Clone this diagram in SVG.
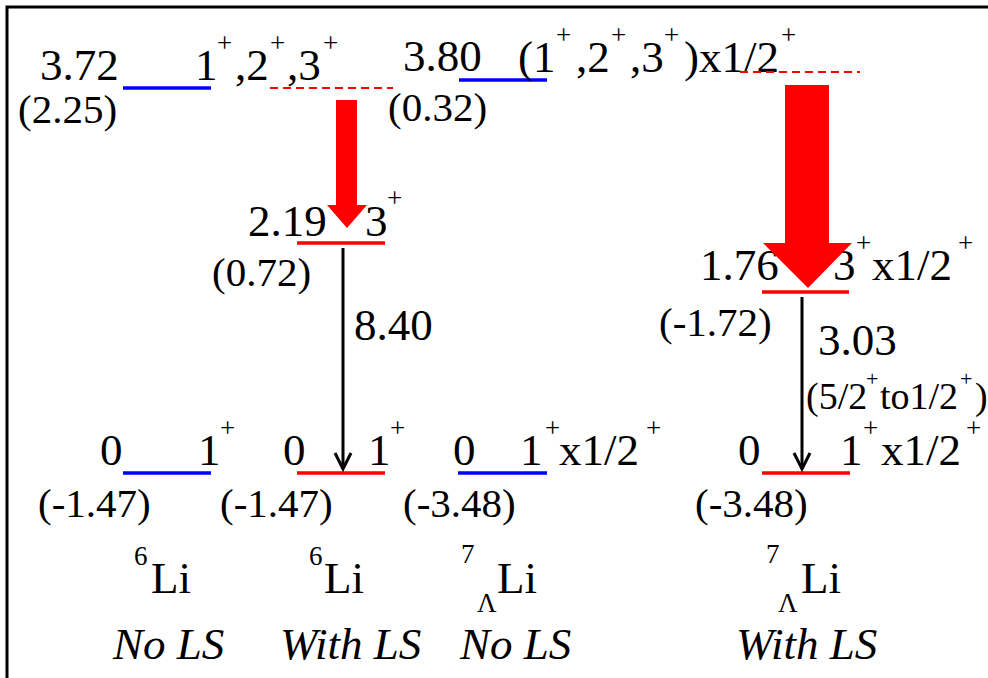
<svg xmlns="http://www.w3.org/2000/svg" width="988" height="678" viewBox="0 0 988 678" font-family="'Liberation Serif', 'Times New Roman', serif">
<style>
text{font-family:"Liberation Serif","Times New Roman",serif;fill:#000}
.m{font-size:45px}
.p{font-size:41px}
.s{font-size:27px}
.q{font-size:38px}
.t{font-size:22px}
.it{font-size:45px;font-style:italic}
.blue{stroke:#0000ff;stroke-width:3.5}
.red{stroke:#ff0000;stroke-width:3.5}
.dash{stroke:#ff0000;stroke-width:2;stroke-dasharray:8 5}
.big{fill:#ff0000}
.tr{stroke:#000;stroke-width:3;fill:none}
</style>
<rect width="988" height="678" fill="#fff"/>
<path d="M7,678 V7 H988" fill="none" stroke="#000" stroke-width="3"/>

<g id="li6-nols-372">
<text class="m" x="40" y="80">3.72</text>
<line class="blue" x1="123" y1="88" x2="211" y2="88"/>
<text class="m" x="195" y="80">1</text><text class="s" x="217" y="52">+</text>
<text class="m" x="235" y="80">,2</text><text class="s" x="270" y="52">+</text>
<text class="m" x="287" y="80">,3</text><text class="s" x="323" y="52">+</text>
<text class="p" x="18" y="123">(2.25)</text>
</g>
<g id="li6-ls-372">
<line class="dash" x1="270" y1="88" x2="393" y2="88"/>
</g>
<g id="li7-nols-380">
<text class="m" x="403" y="71">3.80</text>
<line class="blue" x1="459" y1="80" x2="547" y2="80"/>
<text class="m" x="518" y="72">(1</text><text class="s" x="556" y="44">+</text>
<text class="m" x="576" y="72">,2</text><text class="s" x="611" y="44">+</text>
<text class="m" x="630" y="72">,3</text><text class="s" x="664" y="44">+</text>
<text class="m" x="684" y="72">)x1/2</text><text class="s" x="781" y="44">+</text>
<text class="p" x="388" y="121">(0.32)</text>
</g>
<g id="li7-ls-380">
<line class="dash" x1="740" y1="72" x2="860" y2="72"/>
</g>

<g id="li6-ls-219">
<line class="red" x1="297" y1="243" x2="385" y2="243"/>
<text class="m" x="248" y="236">2.19</text>
<text class="m" x="365" y="236">3</text><text class="s" x="387" y="207">+</text>
<text class="p" x="212" y="286">(0.72)</text>
</g>
<g id="li7-ls-176">
<line class="red" x1="762" y1="292" x2="849" y2="292"/>
<text class="m" x="700" y="280">1.76</text>
<text class="m" x="833" y="280">3</text><text class="s" x="856" y="252">+</text>
<text class="m" x="872" y="280">x1/2</text><text class="s" x="958" y="252">+</text>
<text class="p" x="659" y="336">(-1.72)</text>
</g>

<g id="li6-nols-0">
<line class="blue" x1="123" y1="473" x2="211" y2="473"/>
<text class="m" x="100" y="465">0</text>
<text class="m" x="198" y="465">1</text><text class="s" x="220" y="437">+</text>
<text class="p" x="38" y="517">(-1.47)</text>
</g>
<g id="li6-ls-0">
<line class="red" x1="297" y1="473" x2="385" y2="473"/>
<text class="m" x="283" y="465">0</text>
<text class="m" x="368" y="465">1</text><text class="s" x="390" y="437">+</text>
<text class="p" x="220" y="517">(-1.47)</text>
</g>
<g id="li7-nols-0">
<line class="blue" x1="458" y1="473" x2="547" y2="473"/>
<text class="m" x="453" y="465">0</text>
<text class="m" x="520" y="465">1</text><text class="s" x="545" y="437">+</text>
<text class="m" x="559" y="465">x1/2</text><text class="s" x="646" y="437">+</text>
<text class="p" x="403" y="517">(-3.48)</text>
</g>
<g id="li7-ls-0">
<line class="red" x1="762" y1="473" x2="850" y2="473"/>
<text class="m" x="738" y="465">0</text>
<text class="m" x="840" y="465">1</text><text class="s" x="863" y="437">+</text>
<text class="m" x="881" y="465">x1/2</text><text class="s" x="966" y="437">+</text>
<text class="p" x="695" y="517">(-3.48)</text>
</g>

<g id="connectors">
<polygon class="big" points="336,100 357,100 357,205 367,205 347,228 327,205 336,205"/>
<polygon class="big" points="785,85 829,85 829,243 852,243 808,288 763,243 785,243"/>
<line class="tr" x1="343" y1="248" x2="343" y2="469"/>
<polyline class="tr" points="335,453 343,469 351,453"/>
<line class="tr" x1="802" y1="297" x2="802" y2="469"/>
<polyline class="tr" points="794,453 802,469 810,453"/>
<text class="m" x="354" y="340">8.40</text>
<text class="m" x="818" y="355">3.03</text>
<text class="q" x="806" y="409">(5/2</text><text class="t" x="866" y="386">+</text>
<text class="q" x="880" y="409">to1/2</text><text class="t" x="960" y="386">+</text>
<text class="q" x="975" y="409">)</text>
</g>

<g id="labels">
<text class="s" x="134" y="565">6</text><text class="m" x="151" y="593">Li</text>
<text class="s" x="309" y="565">6</text><text class="m" x="324" y="593">Li</text>
<text class="s" x="461" y="563">7</text><text class="s" x="477" y="612">Λ</text><text class="m" x="497" y="593">Li</text>
<text class="s" x="766" y="563">7</text><text class="s" x="778" y="612">Λ</text><text class="m" x="801" y="593">Li</text>
<text class="it" x="113" y="659">No LS</text>
<text class="it" x="280" y="659">With LS</text>
<text class="it" x="460" y="659">No LS</text>
<text class="it" x="736" y="659">With LS</text>
</g>
</svg>
